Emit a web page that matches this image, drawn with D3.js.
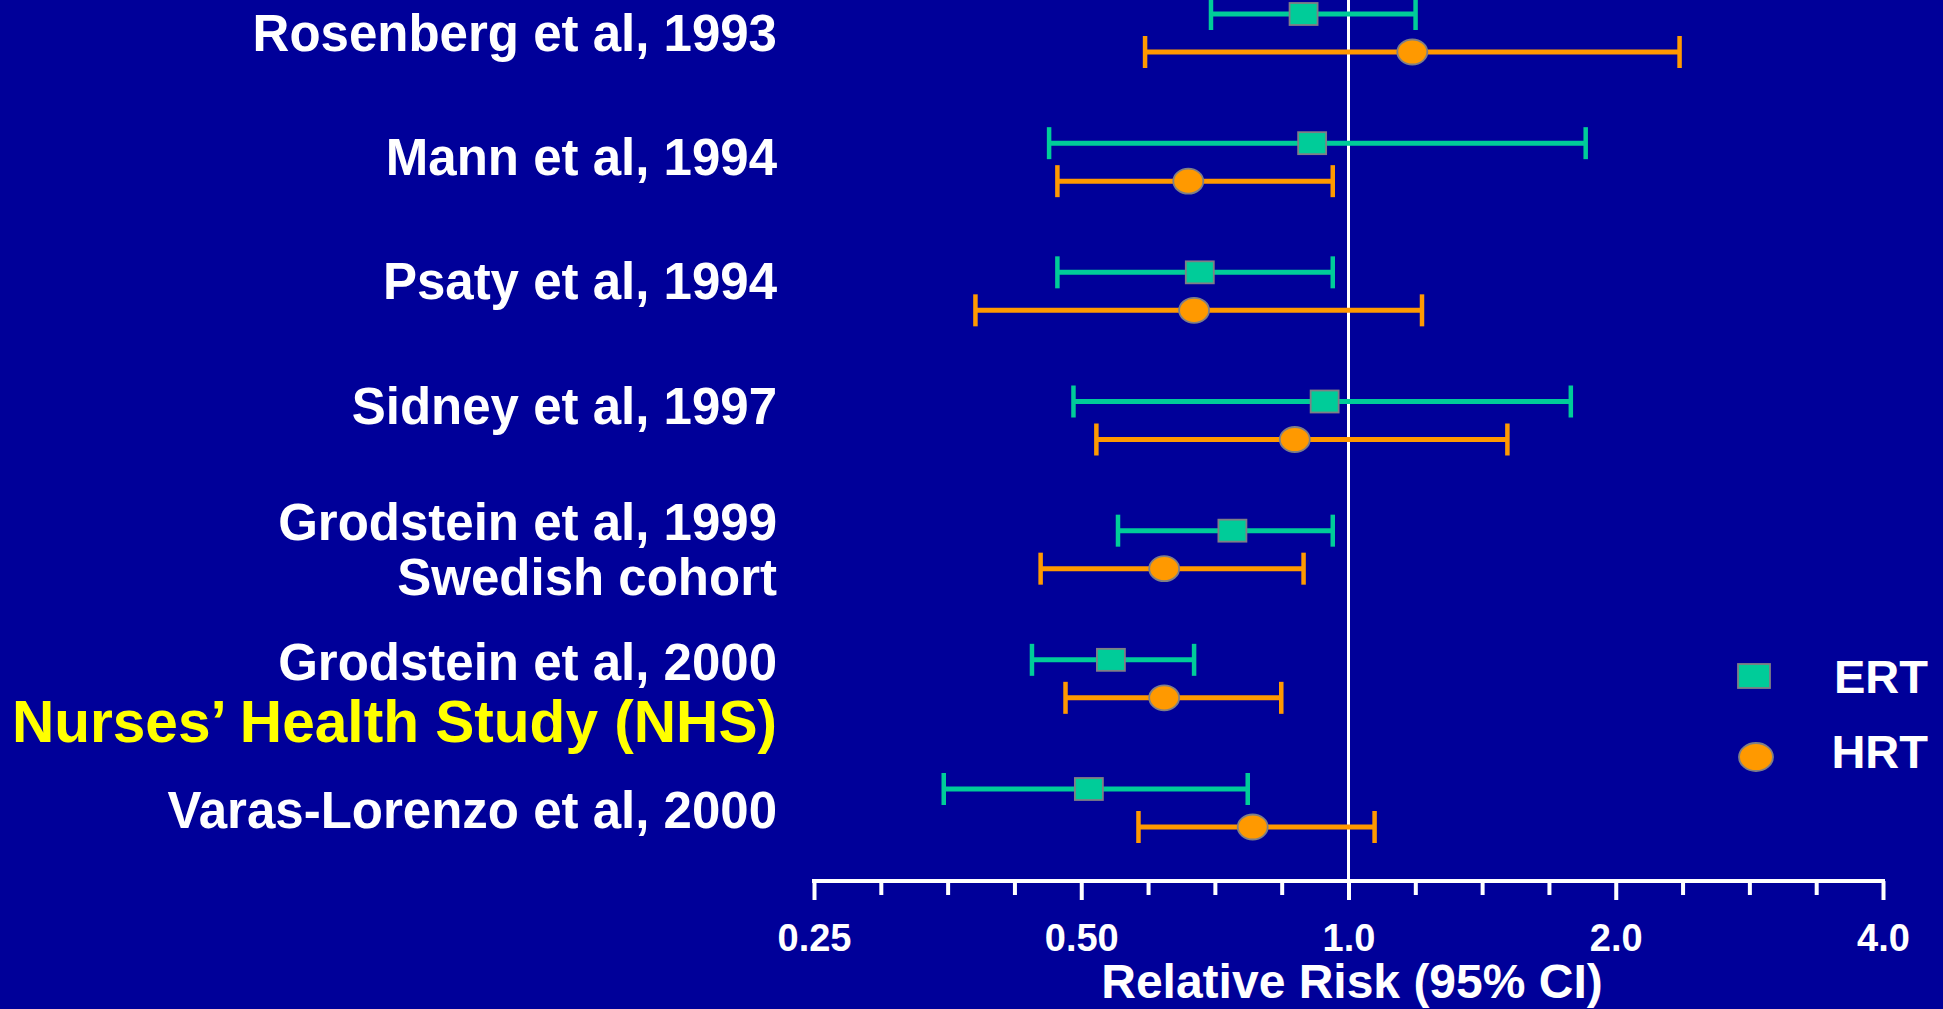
<!DOCTYPE html>
<html>
<head>
<meta charset="utf-8">
<script src="https://cdn.jsdelivr.net/npm/d3@7/dist/d3.min.js"></script>
<style>
  html, body { margin: 0; padding: 0; background: #000099; }
  svg { display: block; }
  text { font-family: "Liberation Sans", Arial, Helvetica, sans-serif; font-weight: bold; }
</style>
</head>
<body>
<svg id="chart" width="1943" height="1009"></svg>
<script>
// Studies (one row each) and their optional second label line
const studies = [
  "Rosenberg et al, 1993",
  "Mann et al, 1994",
  "Psaty et al, 1994",
  "Sidney et al, 1997",
  "Grodstein et al, 1999",
  "Grodstein et al, 2000",
  "Varas-Lorenzo et al, 2000"
];
const subtitles = [null, null, null, null, "Swedish cohort", "Nurses\u2019 Health Study (NHS)", null];

// ERT: relative risk with 95% CI
const ertRR    = [0.89, 0.91, 0.68, 0.94, 0.74, 0.54, 0.51];
const ertLower = [0.70, 0.46, 0.47, 0.49, 0.55, 0.44, 0.35];
const ertUpper = [1.19, 1.85, 0.96, 1.78, 0.96, 0.67, 0.77];

// HRT: relative risk with 95% CI
const hrtRR    = [1.18, 0.66, 0.67, 0.87, 0.62, 0.62, 0.78];
const hrtLower = [0.59, 0.47, 0.38, 0.52, 0.45, 0.48, 0.58];
const hrtUpper = [2.36, 0.96, 1.21, 1.51, 0.89, 0.84, 1.07];

const tickValues = [0.25, 0.5, 1, 2, 4];
const tickLabels = ["0.25", "0.50", "1.0", "2.0", "4.0"];
const axisTitle = "Relative Risk (95% CI)";
const seriesNames = ["ERT", "HRT"];

// ---- layout ----
const BG = "#000099", TEAL = "#00CC99", ORANGE = "#FF9900", YELLOW = "#FFFF00";
const MARKER_STROKE = "#7f7f86";
const axisY = 881;
const labelRight = 777;
// baseline nudges of the study labels relative to each row centre
const labelNudge = [17.7, 12.8, 8, 3.5, -9.7, 1.2, 20.3];
const subtitleGap = [0, 0, 0, 0, 55, 61.7, 0];
const subtitleSize = [51, 51, 51, 51, 51, 58.6, 51];

const svg = d3.select("#chart");
svg.append("rect").attr("width", 1943).attr("height", 1009).attr("fill", BG);

const x = d3.scaleLog().base(2).domain([0.25, 4]).range([814, 1883]);
const y = d3.scalePoint().domain(studies).range([33, 808]);
const rowOffset = 19;

// reference line at RR = 1
svg.append("line")
  .attr("x1", x(1)).attr("x2", x(1))
  .attr("y1", 0).attr("y2", axisY)
  .attr("stroke", "#ffffff").attr("stroke-width", 3);

// x axis: minor ticks at quarter-doublings, major ticks at each doubling
const minorTicks = d3.range(0, 17).map(i => 0.25 * Math.pow(2, i / 4));
const axisG = svg.append("g").attr("transform", `translate(0,${axisY})`);
const axis = d3.axisBottom(x)
  .tickValues(minorTicks)
  .tickSize(14)
  .tickSizeOuter(0)
  .tickFormat("");
axisG.call(axis);
axisG.select(".domain").attr("stroke", "#fff").attr("stroke-width", 4)
  .attr("d", `M${x(0.25) - 2},0H${x(4) + 2}`);
axisG.selectAll(".tick line").attr("stroke", "#fff").attr("stroke-width", 4)
  .attr("y1", 0)
  .attr("y2", d => tickValues.some(t => Math.abs(t - d) < 1e-9) ? 19 : 14);

const majorAxis = d3.axisBottom(x)
  .tickValues(tickValues)
  .tickSize(0)
  .tickPadding(0)
  .tickFormat((d, i) => tickLabels[i]);
const majorG = svg.append("g").attr("transform", `translate(0,${axisY})`).call(majorAxis);
majorG.select(".domain").remove();
majorG.selectAll(".tick text")
  .attr("y", 70).attr("dy", null)
  .attr("fill", "#fff").attr("font-size", 38)
  .attr("font-family", "\"Liberation Sans\", Arial, sans-serif")
  .attr("font-weight", "bold");

svg.append("text")
  .attr("x", 1352).attr("y", 998)
  .attr("text-anchor", "middle")
  .attr("fill", "#fff").attr("font-size", 48)
  .text(axisTitle);

// study labels
const labels = svg.append("g");
studies.forEach((s, i) => {
  const base = y(s) + labelNudge[i];
  labels.append("text")
    .attr("x", labelRight).attr("y", base)
    .attr("text-anchor", "end")
    .attr("fill", "#fff").attr("font-size", 51)
    .text(s);
  if (subtitles[i]) {
    labels.append("text")
      .attr("x", labelRight).attr("y", base + subtitleGap[i])
      .attr("text-anchor", "end")
      .attr("fill", s === "Grodstein et al, 2000" ? YELLOW : "#fff")
      .attr("font-size", subtitleSize[i])
      .text(subtitles[i]);
  }
});

// error bars with caps
function drawSeries(rr, lo, hi, color, dy, shape) {
  const g = svg.append("g");
  const rows = studies.map((s, i) => ({ s, rr: rr[i], lo: lo[i], hi: hi[i] }));
  const cy = d => y(d.s) + dy;
  g.selectAll("line.ci").data(rows).join("line")
    .attr("x1", d => x(d.lo)).attr("x2", d => x(d.hi))
    .attr("y1", cy).attr("y2", cy)
    .attr("stroke", color).attr("stroke-width", 5);
  ["lo", "hi"].forEach(k => {
    g.selectAll("line.cap-" + k).data(rows).join("line")
      .attr("x1", d => x(d[k])).attr("x2", d => x(d[k]))
      .attr("y1", d => cy(d) - 16).attr("y2", d => cy(d) + 16)
      .attr("stroke", color).attr("stroke-width", 4.5);
  });
  if (shape === "square") {
    g.selectAll("rect").data(rows).join("rect")
      .attr("x", d => x(d.rr) - 14).attr("y", d => cy(d) - 11)
      .attr("width", 28).attr("height", 22)
      .attr("fill", color).attr("stroke", MARKER_STROKE).attr("stroke-width", 1.8);
  } else {
    g.selectAll("ellipse").data(rows).join("ellipse")
      .attr("cx", d => x(d.rr)).attr("cy", cy)
      .attr("rx", 15).attr("ry", 12.5)
      .attr("fill", color).attr("stroke", MARKER_STROKE).attr("stroke-width", 1.8);
  }
}
drawSeries(ertRR, ertLower, ertUpper, TEAL, -rowOffset, "square");
drawSeries(hrtRR, hrtLower, hrtUpper, ORANGE, rowOffset, "circle");

// legend
const legend = svg.append("g");
legend.append("rect")
  .attr("x", 1738).attr("y", 664).attr("width", 32).attr("height", 24)
  .attr("fill", TEAL).attr("stroke", MARKER_STROKE).attr("stroke-width", 1.8);
legend.append("ellipse")
  .attr("cx", 1756).attr("cy", 757).attr("rx", 17).attr("ry", 14)
  .attr("fill", ORANGE).attr("stroke", MARKER_STROKE).attr("stroke-width", 1.8);
legend.selectAll("text").data(seriesNames).join("text")
  .attr("x", 1928).attr("y", (d, i) => 693 + i * 75)
  .attr("text-anchor", "end")
  .attr("fill", "#fff").attr("font-size", 47)
  .text(d => d);
</script>
</body>
</html>
